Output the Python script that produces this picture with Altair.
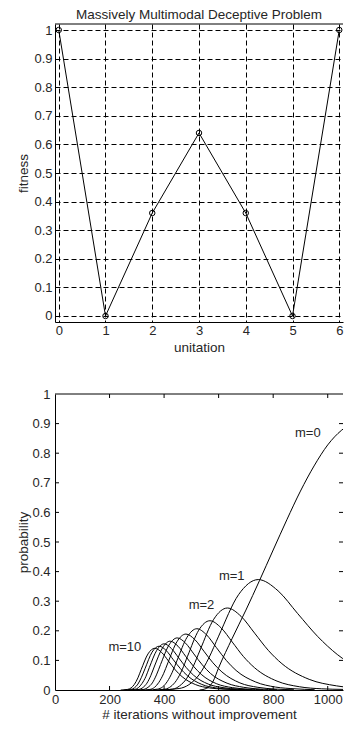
import altair as alt
import pandas as pd

FONT = "Liberation Sans"
TXT = "#262626"

# ---------------- top panel data ----------------
title_text = ["Massively Multimodal Deceptive Problem"]
unitation = [0, 1, 2, 3, 4, 5, 6]
fitness = [1.0, 0.0, 0.36, 0.64, 0.36, 0.0, 1.0]
top_x_ticks = [0, 1, 2, 3, 4, 5, 6]
top_y_ticks = [0, 0.1, 0.2, 0.3, 0.4, 0.5, 0.6, 0.7, 0.8, 0.9, 1]

# ---------------- bottom panel data ----------------
m0_x = [530, 555, 580, 600, 650, 700, 750, 800, 850, 900, 950, 1000, 1050, 1100, 1150]
m0_y = [0.0, 0.005, 0.03, 0.075, 0.175, 0.27, 0.37, 0.473, 0.575, 0.672, 0.757, 0.828, 0.877, 0.905, 0.915]
m1_x = [383, 455, 491, 528, 564, 600, 673, 745, 818, 890, 963, 1035, 1180]
m1_y = [0.0, 0.005, 0.018, 0.051, 0.108, 0.182, 0.322, 0.373, 0.335, 0.258, 0.181, 0.120, 0.048]
m2_x = [382, 432, 457, 482, 507, 532, 582, 632, 682, 732, 782, 832, 932, 1032, 1132]
m2_y = [0.0, 0.003, 0.014, 0.038, 0.080, 0.135, 0.239, 0.277, 0.249, 0.192, 0.134, 0.089, 0.036, 0.014, 0.005]
m3_x = [363, 404, 425, 445, 466, 486, 527, 568, 609, 650, 691, 732, 814, 896, 978, 1060]
m3_y = [0.0, 0.003, 0.012, 0.032, 0.068, 0.114, 0.202, 0.234, 0.210, 0.162, 0.113, 0.075, 0.030, 0.011, 0.004, 0.002]
m4_x = [340, 376, 394, 412, 430, 448, 484, 520, 556, 592, 628, 664, 736, 808, 880, 952]
m4_y = [0.0, 0.003, 0.010, 0.029, 0.060, 0.101, 0.178, 0.207, 0.186, 0.143, 0.100, 0.066, 0.027, 0.010, 0.004, 0.001]
m5_x = [315, 348, 365, 381, 398, 414, 447, 480, 513, 546, 579, 612, 678, 744, 810, 876]
m5_y = [0.0, 0.002, 0.009, 0.026, 0.055, 0.092, 0.163, 0.189, 0.170, 0.131, 0.092, 0.061, 0.024, 0.009, 0.003, 0.001]
m6_x = [296, 326, 341, 357, 372, 387, 418, 448, 479, 509, 540, 570, 631, 692, 753, 814]
m6_y = [0.0, 0.002, 0.009, 0.024, 0.051, 0.086, 0.152, 0.176, 0.158, 0.122, 0.085, 0.056, 0.023, 0.009, 0.003, 0.001]
m7_x = [280, 308, 322, 337, 351, 365, 394, 422, 451, 479, 508, 536, 593, 650, 707, 764]
m7_y = [0.0, 0.002, 0.008, 0.023, 0.048, 0.081, 0.142, 0.165, 0.148, 0.114, 0.080, 0.053, 0.021, 0.008, 0.003, 0.001]
m8_x = [265, 292, 306, 319, 333, 346, 373, 400, 427, 454, 481, 508, 562, 616, 670, 724]
m8_y = [0.0, 0.002, 0.008, 0.022, 0.045, 0.076, 0.134, 0.156, 0.140, 0.108, 0.076, 0.050, 0.020, 0.008, 0.003, 0.001]
m9_x = [252, 278, 291, 304, 317, 330, 356, 382, 408, 434, 460, 486, 538, 590, 642, 694]
m9_y = [0.0, 0.002, 0.007, 0.020, 0.043, 0.072, 0.128, 0.148, 0.133, 0.102, 0.072, 0.048, 0.019, 0.007, 0.003, 0.001]
m10_x = [241, 266, 279, 291, 304, 316, 341, 366, 391, 416, 441, 466, 516, 566, 616, 666]
m10_y = [0.0, 0.002, 0.007, 0.019, 0.041, 0.069, 0.122, 0.141, 0.127, 0.098, 0.068, 0.045, 0.018, 0.007, 0.003, 0.001]

label_text = ["m=0", "m=1", "m=2", "m=10"]
label_x = [927, 648, 537, 256]
label_y = [0.869, 0.386, 0.286, 0.144]

bot_x_ticks = [0, 200, 400, 600, 800, 1000]
bot_y_ticks = [0, 0.1, 0.2, 0.3, 0.4, 0.5, 0.6, 0.7, 0.8, 0.9, 1]
inner_x_ticks = [200, 400, 600, 800, 1000]
inner_y_ticks = [0.1, 0.2, 0.3, 0.4, 0.5, 0.6, 0.7, 0.8, 0.9]

TW, TH = 288, 298   # top panel plot size
BW, BH = 288, 296   # bottom panel plot size

# ---------------- top panel ----------------
top_df = pd.DataFrame({"unitation": unitation, "fitness": fitness})
tx_scale = alt.Scale(domain=[-0.08, 6.08], nice=False, zero=False)
ty_scale = alt.Scale(domain=[-0.021, 1.021], nice=False, zero=False)
tx_axis = alt.Axis(values=top_x_ticks, format="d", title="unitation",
                   grid=True, gridDash=[5, 3], gridColor="black", gridOpacity=1,
                   labelPadding=2, titlePadding=3, labelOverlap=False, labelFlush=False)
ty_axis = alt.Axis(values=top_y_ticks, format="~g", title="fitness",
                   grid=True, gridDash=[5, 3], gridColor="black", gridOpacity=1,
                   labelPadding=3, titlePadding=3, labelOverlap=False, labelFlush=False)
base_top = alt.Chart(top_df).encode(
    x=alt.X("unitation:Q", scale=tx_scale, axis=tx_axis),
    y=alt.Y("fitness:Q", scale=ty_scale, axis=ty_axis))
top_border = alt.Chart(pd.DataFrame({"t": title_text})).mark_rule(color="black", strokeWidth=1).encode(
    x=alt.value(0), x2=alt.value(TW), y=alt.value(0))
top_title = alt.Chart(pd.DataFrame({"t": title_text})).mark_text(
    font=FONT, fontSize=13.5, color=TXT, align="center", baseline="top"
).encode(x=alt.value(TW / 2), y=alt.value(-16), text="t:N")
top = alt.layer(
    base_top.mark_line(color="black", strokeWidth=1),
    base_top.mark_point(shape="circle", filled=False, color="black", size=30, strokeWidth=1, opacity=1),
    top_border,
    top_title,
).properties(width=TW, height=TH)

# ---------------- bottom panel ----------------
frames = []
for name, xs, ys in [("0", m0_x, m0_y), ("1", m1_x, m1_y), ("2", m2_x, m2_y), ("3", m3_x, m3_y),
                     ("4", m4_x, m4_y), ("5", m5_x, m5_y), ("6", m6_x, m6_y), ("7", m7_x, m7_y),
                     ("8", m8_x, m8_y), ("9", m9_x, m9_y), ("10", m10_x, m10_y)]:
    frames.append(pd.DataFrame({"m": name, "iter": xs, "prob": ys}))
curves_df = pd.concat(frames, ignore_index=True)

bx_scale = alt.Scale(domain=[0, 1056], nice=False, zero=False)
by_scale = alt.Scale(domain=[0, 1], nice=False, zero=False)
bx_axis = alt.Axis(values=bot_x_ticks, format="d", title="# iterations without improvement",
                   grid=False, labelPadding=3, titlePadding=1.5, labelOverlap=False, labelFlush=False)
by_axis = alt.Axis(values=bot_y_ticks, format="~g", title="probability",
                   grid=False, labelPadding=5, titlePadding=1, labelOverlap=False, labelFlush=False)

curves = alt.Chart(curves_df).mark_line(color="black", strokeWidth=1, interpolate="monotone", clip=True).encode(
    x=alt.X("iter:Q", scale=bx_scale, axis=bx_axis),
    y=alt.Y("prob:Q", scale=by_scale, axis=by_axis),
    detail="m:N",
)

labels = alt.Chart(pd.DataFrame({"t": label_text, "x": label_x, "y": label_y})).mark_text(
    font=FONT, fontSize=13, color=TXT, align="center", baseline="middle"
).encode(x=alt.X("x:Q", scale=bx_scale, axis=bx_axis),
         y=alt.Y("y:Q", scale=by_scale, axis=by_axis), text="t:N")

ytk = pd.DataFrame({"v": inner_y_ticks})
xtk = pd.DataFrame({"v": inner_x_ticks})
left_ticks = alt.Chart(ytk).mark_rule(color="black", strokeWidth=1).encode(
    y=alt.Y("v:Q", scale=by_scale, axis=by_axis), x=alt.value(0), x2=alt.value(4))
right_ticks = alt.Chart(ytk).mark_rule(color="black", strokeWidth=1).encode(
    y=alt.Y("v:Q", scale=by_scale, axis=by_axis), x=alt.value(BW - 4), x2=alt.value(BW))
top_ticks = alt.Chart(xtk).mark_rule(color="black", strokeWidth=1).encode(
    x=alt.X("v:Q", scale=bx_scale, axis=bx_axis), y=alt.value(0), y2=alt.value(4))
bottom_ticks = alt.Chart(xtk).mark_rule(color="black", strokeWidth=1).encode(
    x=alt.X("v:Q", scale=bx_scale, axis=bx_axis), y=alt.value(BH - 4), y2=alt.value(BH))
bot_border = alt.Chart(pd.DataFrame({"t": title_text})).mark_rule(color="black", strokeWidth=1).encode(
    x=alt.value(0), x2=alt.value(BW), y=alt.value(0))

bottom = alt.layer(curves, labels, left_ticks, right_ticks, top_ticks, bottom_ticks, bot_border).properties(
    width=BW, height=BH)

chart = alt.vconcat(top, bottom, spacing=72, bounds="flush").properties(
    padding={"left": 8, "top": 0, "right": 0, "bottom": 0}
).configure_view(stroke=None).configure_axis(
    labelFont=FONT, titleFont=FONT, labelFontSize=13, titleFontSize=13.5,
    labelColor=TXT, titleColor=TXT, titleFontWeight="normal",
    ticks=False, domain=True, domainColor="black", domainWidth=1,
)

chart.save("out.html", embed_options={"renderer": "svg", "actions": False})
